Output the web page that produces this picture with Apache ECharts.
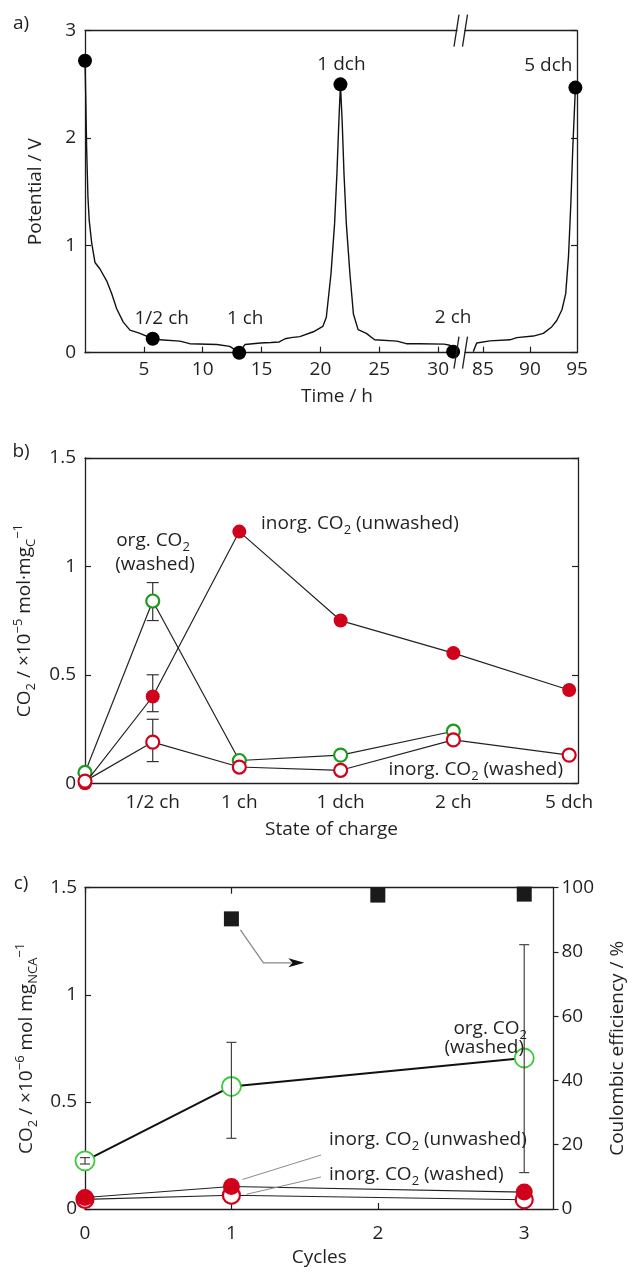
<!DOCTYPE html>
<html>
<head>
<meta charset="utf-8">
<title>Potential and CO2 evolution</title>
<script src="https://cdn.jsdelivr.net/npm/echarts@6.0.0/dist/echarts.min.js"></script>
<style>
html,body{margin:0;padding:0;background:#fff;}
#chart{width:639px;height:1272px;}
</style>
</head>
<body>
<div id="chart"></div>
<script>
// ---------------- Panel a: potential vs time ----------------
const potTimeFirst = [0, 0.06, 0.14, 0.25, 0.36, 0.57, 0.85, 1.27, 1.84, 2.27, 2.69, 3.25, 3.82, 4.67, 5.75, 6.37, 8.06, 8.9, 11.2, 12.3, 13.1, 13.6, 14.9, 15.8, 16.5, 17.0, 17.5, 18.25, 19.4, 20.2, 20.5, 20.9, 21.2, 21.4, 21.56, 21.7, 21.85, 22.0, 22.2, 22.5, 22.8, 23.2, 23.9, 24.6, 26.5, 27.3, 28.4, 30.5, 31.0, 31.27];
const potValueFirst = [2.72, 2.4, 1.9, 1.45, 1.23, 1.02, 0.84, 0.78, 0.67, 0.55, 0.41, 0.285, 0.21, 0.18, 0.13, 0.12, 0.108, 0.084, 0.077, 0.059, 0.0, 0.077, 0.09, 0.095, 0.10, 0.13, 0.14, 0.15, 0.195, 0.245, 0.33, 0.74, 1.20, 1.67, 2.14, 2.50, 2.14, 1.67, 1.20, 0.74, 0.36, 0.215, 0.18, 0.12, 0.108, 0.084, 0.084, 0.08, 0.07, 0.01];
const potTimeLater = [83.98, 84.34, 85.76, 87.88, 88.6, 90.36, 91.42, 92.31, 92.85, 93.4, 93.8, 94.1, 94.35, 94.55, 94.83];
const potValueLater = [0.01, 0.09, 0.11, 0.12, 0.14, 0.155, 0.18, 0.24, 0.30, 0.40, 0.55, 0.9, 1.4, 1.9, 2.47];
const timeTicksFirst = [5, 10, 15, 20, 25, 30];
const timeTicksLater = [85, 90, 95];
const timeMinorLater = [85, 90];
const socNames = ['', '1/2 ch', '1 ch', '1 dch', '2 ch', '5 dch'];
const socTimes = [0, 5.75, 13.1, 21.7, 31.27, 94.83];
const socPotentials = [2.72, 0.13, 0.0, 2.50, 0.01, 2.47];

// ---------------- Panel b: CO2 vs state of charge ----------------
const socAxisValues = [0, 5.75, 13.1, 21.7, 31.27, 41.1];
const orgWashedSoc = [0.05, 0.84, 0.105, 0.13, 0.24, null];
const inorgUnwashedSoc = [0.0, 0.40, 1.16, 0.75, 0.60, 0.43];
const inorgWashedSoc = [0.01, 0.19, 0.075, 0.06, 0.20, 0.13];
const socErrIndex = [1, 1, 1];
const socErrLow = [0.75, 0.33, 0.10];
const socErrHigh = [0.925, 0.50, 0.295];

// ---------------- Panel c: CO2 vs cycles ----------------
const cycles = [0, 1, 3];
const orgWashedCyc = [0.225, 0.572, 0.705];
const orgWashedCycLow = [0.21, 0.33, 0.17];
const orgWashedCycHigh = [0.24, 0.778, 1.234];
const inorgUnwashedCyc = [0.054, 0.105, 0.079];
const inorgWashedCyc = [0.045, 0.064, 0.043];
const ceCycles = [1, 2, 3];
const ceValues = [90.3, 97.7, 98.0];
const cycleTicks = [0, 1, 2, 3];

// ---------------- styling ----------------
const FONT = "'Open Sans', 'Noto Sans', sans-serif";
const INK = '#231f20';
const FS = 19;
const RED = '#d0021b';
const GREEN_B = '#1e9a1e';
const GREEN_C = '#3cc93c';
const BREAK_A = 31.6;    // end of first time segment
const RESUME_A = 83.1;   // start of second time segment

const RICH = {
  sub: {fontSize: 13, fontFamily: FONT, color: INK, verticalAlign: 'bottom', lineHeight: 26},
  sup: {fontSize: 13, fontFamily: FONT, color: INK, verticalAlign: 'top', lineHeight: 26}
};
const nameStyle = {fontSize: FS, fontFamily: FONT, color: INK, lineHeight: 26, rich: RICH};
const lineAx = {show: true, onZero: false, lineStyle: {color: INK, width: 1.3}};
const labelBase = {fontSize: FS, fontFamily: FONT, color: INK};

// grid geometry
const G = {
  a1: {left: 85, top: 30.7, width: 372, height: 322},
  a2: {left: 465, top: 30.7, width: 112, height: 322},
  b: {left: 85, top: 457.8, width: 493, height: 325.5},
  c: {left: 85, top: 887.7, width: 488, height: 323.3}
};

const zip = (xs, ys) => xs.map((x, i) => [x, ys[i]]);

const labelOffsets = {'1/2 ch': [9, -20], '1 ch': [6, -34], '1 dch': [1, -20], '2 ch': [0, -34], '5 dch': [-27, -22]};
function socPoint(i) {
  const name = socNames[i];
  const item = {value: [socTimes[i], socPotentials[i]], name: name};
  item.label = {show: name !== '', offset: labelOffsets[name] || [0, 0]};
  return item;
}
const socIdx = socTimes.map((t, i) => i);
const socFirst = socIdx.filter(i => socTimes[i] <= BREAK_A).map(socPoint);
const socLater = socIdx.filter(i => socTimes[i] > BREAK_A).map(socPoint);

function errorBars(xAxisIndex, yAxisIndex, data, cap, color, width, z) {
  return {
    type: 'custom', xAxisIndex, yAxisIndex, data, z, silent: true, clip: false,
    renderItem(params, api) {
      const x = api.value(0), lo = api.value(1), hi = api.value(2);
      const p1 = api.coord([x, lo]), p2 = api.coord([x, hi]);
      const st = {stroke: color, lineWidth: width};
      return {type: 'group', children: [
        {type: 'line', shape: {x1: p1[0], y1: p1[1], x2: p2[0], y2: p2[1]}, style: st},
        {type: 'line', shape: {x1: p1[0] - cap, y1: p1[1], x2: p1[0] + cap, y2: p1[1]}, style: st},
        {type: 'line', shape: {x1: p2[0] - cap, y1: p2[1], x2: p2[0] + cap, y2: p2[1]}, style: st}
      ]};
    }
  };
}
const socErrData = socErrIndex.map((k, i) => [socAxisValues[k], socErrLow[i], socErrHigh[i]]);
const cycErrData = cycles.map((c, i) => [c, orgWashedCycLow[i], orgWashedCycHigh[i]]);

const dotLabel = {show: true, position: 'inside', formatter: p => p.name, fontSize: FS, fontFamily: FONT, color: INK, opacity: 1};

const option = {
  animation: false,
  backgroundColor: '#fff',
  textStyle: {fontFamily: FONT, color: INK},
  grid: [
    Object.assign({containLabel: false}, G.a1),
    Object.assign({containLabel: false}, G.a2),
    Object.assign({containLabel: false}, G.b),
    Object.assign({containLabel: false}, G.c)
  ],
  xAxis: [
    // 0: panel a, first segment bottom
    {type: 'value', gridIndex: 0, position: 'bottom', min: 0, max: BREAK_A,
     axisLine: lineAx, splitLine: {show: false},
     axisTick: {inside: true, length: 6, customValues: timeTicksFirst, lineStyle: {color: INK, width: 1.2}},
     axisLabel: Object.assign({customValues: timeTicksFirst, margin: 7}, labelBase)},
    // 1: panel a, first segment top
    {type: 'value', gridIndex: 0, position: 'top', min: 0, max: BREAK_A,
     axisLine: lineAx, axisTick: {show: false}, axisLabel: {show: false}, splitLine: {show: false}},
    // 2: panel a, second segment bottom
    {type: 'value', gridIndex: 1, position: 'bottom', min: RESUME_A, max: 95,
     axisLine: lineAx, splitLine: {show: false},
     axisTick: {inside: true, length: 6, customValues: timeMinorLater, lineStyle: {color: INK, width: 1.2}},
     axisLabel: Object.assign({customValues: timeTicksLater, margin: 7, showMaxLabel: true}, labelBase)},
    // 3: panel a, second segment top
    {type: 'value', gridIndex: 1, position: 'top', min: RESUME_A, max: 95,
     axisLine: lineAx, axisTick: {show: false}, axisLabel: {show: false}, splitLine: {show: false}},
    // 4: panel b bottom
    {type: 'value', gridIndex: 2, position: 'bottom', min: 0, max: 41.85,
     axisLine: lineAx, splitLine: {show: false}, axisTick: {show: false},
     axisLabel: Object.assign({customValues: socAxisValues.slice(1), margin: 10,
       formatter: v => socNames[socAxisValues.indexOf(v)]}, labelBase),
     name: 'State of charge', nameLocation: 'middle', nameGap: 33, nameTextStyle: nameStyle},
    // 5: panel b top
    {type: 'value', gridIndex: 2, position: 'top', min: 0, max: 41.85,
     axisLine: lineAx, axisTick: {show: false}, axisLabel: {show: false}, splitLine: {show: false}},
    // 6: panel c bottom
    {type: 'value', gridIndex: 3, position: 'bottom', min: 0, max: 3.2,
     axisLine: lineAx, splitLine: {show: false},
     axisTick: {inside: true, length: 6, customValues: cycleTicks, lineStyle: {color: INK, width: 1.2}},
     axisLabel: Object.assign({customValues: cycleTicks, margin: 15}, labelBase),
     name: 'Cycles', nameLocation: 'middle', nameGap: 36, nameTextStyle: nameStyle},
    // 7: panel c top
    {type: 'value', gridIndex: 3, position: 'top', min: 0, max: 3.2,
     axisLine: lineAx, splitLine: {show: false},
     axisTick: {inside: true, length: 6, customValues: cycleTicks, lineStyle: {color: INK, width: 1.2}},
     axisLabel: {show: false}}
  ],
  yAxis: [
    // 0: panel a left
    {type: 'value', gridIndex: 0, position: 'left', min: 0, max: 3, interval: 1,
     axisLine: lineAx, splitLine: {show: false},
     axisTick: {inside: true, length: 6, lineStyle: {color: INK, width: 1.2}},
     axisLabel: Object.assign({margin: 9}, labelBase),
     name: 'Potential / V', nameLocation: 'middle', nameGap: 36, nameRotate: 90, nameTextStyle: nameStyle},
    // 1: panel a right (second segment)
    {type: 'value', gridIndex: 1, position: 'right', min: 0, max: 3, interval: 1,
     axisLine: lineAx, splitLine: {show: false},
     axisTick: {inside: true, length: 6, lineStyle: {color: INK, width: 1.2}},
     axisLabel: {show: false}},
    // 2: panel b left
    {type: 'value', gridIndex: 2, position: 'left', min: 0, max: 1.5, interval: 0.5,
     axisLine: lineAx, splitLine: {show: false},
     axisTick: {inside: true, length: 6, lineStyle: {color: INK, width: 1.2}},
     axisLabel: Object.assign({margin: 9}, labelBase),
     name: 'CO{sub|2} / ×10{sup|−5} mol·mg{sub|C}{sup|−1}', nameLocation: 'middle', nameGap: 47, nameRotate: 90,
     nameTextStyle: nameStyle},
    // 3: panel b right
    {type: 'value', gridIndex: 2, position: 'right', min: 0, max: 1.5, interval: 0.5,
     axisLine: lineAx, splitLine: {show: false},
     axisTick: {inside: true, length: 6, lineStyle: {color: INK, width: 1.2}},
     axisLabel: {show: false}},
    // 4: panel c left
    {type: 'value', gridIndex: 3, position: 'left', min: 0, max: 1.5, interval: 0.5,
     axisLine: lineAx, splitLine: {show: false},
     axisTick: {inside: true, length: 6, lineStyle: {color: INK, width: 1.2}},
     axisLabel: Object.assign({margin: 8}, labelBase),
     name: 'CO{sub|2} / ×10{sup|−6} mol mg{sub|NCA}{sup|−1}', nameLocation: 'middle', nameGap: 44, nameRotate: 90,
     nameTextStyle: nameStyle},
    // 5: panel c right (coulombic efficiency)
    {type: 'value', gridIndex: 3, position: 'right', min: 0, max: 100, interval: 20,
     axisLine: lineAx, splitLine: {show: false},
     axisTick: {inside: false, length: 5, lineStyle: {color: INK, width: 1.2}},
     axisLabel: Object.assign({margin: 8}, labelBase),
     name: 'Coulombic efficiency / %', nameLocation: 'middle', nameGap: 42, nameRotate: 90, nameTextStyle: nameStyle}
  ],
  series: [
    // ---- panel a ----
    {type: 'line', xAxisIndex: 0, yAxisIndex: 0, data: zip(potTimeFirst, potValueFirst), showSymbol: false,
     lineStyle: {color: '#111', width: 1.4}, silent: true, z: 2},
    {type: 'line', xAxisIndex: 2, yAxisIndex: 1, data: zip(potTimeLater, potValueLater), showSymbol: false,
     lineStyle: {color: '#111', width: 1.4}, silent: true, z: 2},
    {type: 'scatter', xAxisIndex: 0, yAxisIndex: 0, data: socFirst, symbolSize: 14, clip: false,
     itemStyle: {color: '#000', opacity: 1}, z: 3, label: dotLabel},
    {type: 'scatter', xAxisIndex: 2, yAxisIndex: 1, data: socLater, symbolSize: 14, clip: false,
     itemStyle: {color: '#000', opacity: 1}, z: 3, label: dotLabel},
    // ---- panel b ----
    errorBars(4, 2, socErrData, 6, '#333', 1.2, 2),
    {type: 'line', xAxisIndex: 4, yAxisIndex: 2, data: zip(socAxisValues, orgWashedSoc), clip: false,
     symbol: 'circle', symbolSize: 13, itemStyle: {color: '#fff', borderColor: GREEN_B, borderWidth: 2.2},
     lineStyle: {color: '#222', width: 1.2}, connectNulls: false, z: 3},
    {type: 'line', xAxisIndex: 4, yAxisIndex: 2, data: zip(socAxisValues, inorgUnwashedSoc), clip: false,
     symbol: 'circle', symbolSize: 14, itemStyle: {color: RED, borderColor: RED, borderWidth: 0},
     lineStyle: {color: '#222', width: 1.2}, z: 4},
    {type: 'line', xAxisIndex: 4, yAxisIndex: 2, data: zip(socAxisValues, inorgWashedSoc), clip: false,
     symbol: 'circle', symbolSize: 13, itemStyle: {color: '#fff', borderColor: RED, borderWidth: 2.2},
     lineStyle: {color: '#222', width: 1.2}, z: 5},
    // ---- panel c ----
    {type: 'line', xAxisIndex: 6, yAxisIndex: 4, data: zip(cycles, orgWashedCyc), clip: false,
     symbol: 'circle', symbolSize: 19, itemStyle: {color: '#fff', borderColor: GREEN_C, borderWidth: 1.8},
     lineStyle: {color: '#111', width: 2}, z: 3},
    {type: 'line', xAxisIndex: 6, yAxisIndex: 4, data: zip(cycles, inorgWashedCyc), clip: false,
     symbol: 'circle', symbolSize: 17, itemStyle: {color: '#fff', borderColor: RED, borderWidth: 2.2},
     lineStyle: {color: '#222', width: 1.1}, z: 3},
    {type: 'line', xAxisIndex: 6, yAxisIndex: 4, data: zip(cycles, inorgUnwashedCyc), clip: false,
     symbol: 'circle', symbolSize: 17, itemStyle: {color: RED, borderWidth: 0},
     lineStyle: {color: '#222', width: 1.1}, z: 4},
    errorBars(6, 4, cycErrData, 5, '#444', 1.2, 6),
    {type: 'scatter', xAxisIndex: 6, yAxisIndex: 5, data: zip(ceCycles, ceValues), clip: false,
     symbol: 'rect', symbolSize: 15, itemStyle: {color: '#1a1a1a', opacity: 1}, z: 5}
  ]
};

const chart = echarts.init(document.getElementById('chart'), null, {renderer: 'canvas'});
chart.setOption(option);

// ---------------- annotations (text, break marks, arrow, leader lines) ----------------
const txt = (x, y, text, align) => ({
  type: 'text', x, y, silent: true, z: 100,
  style: {text, fontSize: FS, fontFamily: FONT, fill: INK, align: align || 'center', verticalAlign: 'middle',
          textAlign: align || 'center', textVerticalAlign: 'middle', lineHeight: 26, rich: RICH}
});
const seg = (x1, y1, x2, y2, color, w) => ({
  type: 'line', silent: true, z: 100,
  shape: {x1, y1, x2, y2}, style: {stroke: color || INK, lineWidth: w || 1.3}
});

const gfx = [];
// panel letters
gfx.push(txt(21, 24, 'a)'), txt(21, 452, 'b)'), txt(21, 884, 'c)'));
// panel a x-axis title
gfx.push(txt(337, 397, 'Time / h'));
// axis break marks (top & bottom)
const brX = (G.a1.left + G.a1.width + G.a2.left) / 2;
[G.a1.top, G.a1.top + G.a1.height].forEach(y => {
  gfx.push(seg(brX - 7, y + 16, brX - 2, y - 16));
  gfx.push(seg(brX + 1.5, y + 16, brX + 6.5, y - 16));
});
// panel b labels
gfx.push(txt(153, 541, 'org. CO{sub|2}'));
gfx.push(txt(155, 565, '(washed)'));
gfx.push(txt(261, 524, 'inorg. CO{sub|2} (unwashed)', 'left'));
gfx.push(txt(563, 770, 'inorg. CO{sub|2} (washed)', 'right'));
// panel c labels
gfx.push(txt(527, 1029, 'org. CO{sub|2}', 'right'));
gfx.push(txt(524, 1048, '(washed)', 'right'));
gfx.push(txt(329, 1140, 'inorg. CO{sub|2} (unwashed)', 'left'));
gfx.push(txt(329, 1175, 'inorg. CO{sub|2} (washed)', 'left'));

// indexes of panel c series
const sIdxWashedC = 9, sIdxUnwashedC = 10, sIdxCE = 12;
const q1 = chart.convertToPixel({seriesIndex: sIdxUnwashedC}, [cycles[1], inorgUnwashedCyc[1]]);
const q2 = chart.convertToPixel({seriesIndex: sIdxWashedC}, [cycles[1], inorgWashedCyc[1]]);
gfx.push(seg(321, 1155, q1[0] + 11, q1[1] - 7, '#8a8a8a', 1));
gfx.push(seg(321, 1177, q2[0] + 15, q2[1] - 1, '#8a8a8a', 1));
// arrow from CE point towards the right axis
const ce = chart.convertToPixel({seriesIndex: sIdxCE}, [ceCycles[0], ceValues[0]]);
gfx.push({type: 'polyline', silent: true, z: 100,
  shape: {points: [[ce[0] + 9, ce[1] + 11], [ce[0] + 32, ce[1] + 44], [ce[0] + 60, ce[1] + 44]]},
  style: {stroke: '#8a8a8a', lineWidth: 1.3, fill: null}});
gfx.push({type: 'polygon', silent: true, z: 100,
  shape: {points: [[ce[0] + 73, ce[1] + 44], [ce[0] + 57, ce[1] + 39.5], [ce[0] + 61, ce[1] + 44], [ce[0] + 57, ce[1] + 48.5]]},
  style: {fill: '#111'}});

chart.setOption({graphic: {elements: gfx}});
</script>
</body>
</html>
